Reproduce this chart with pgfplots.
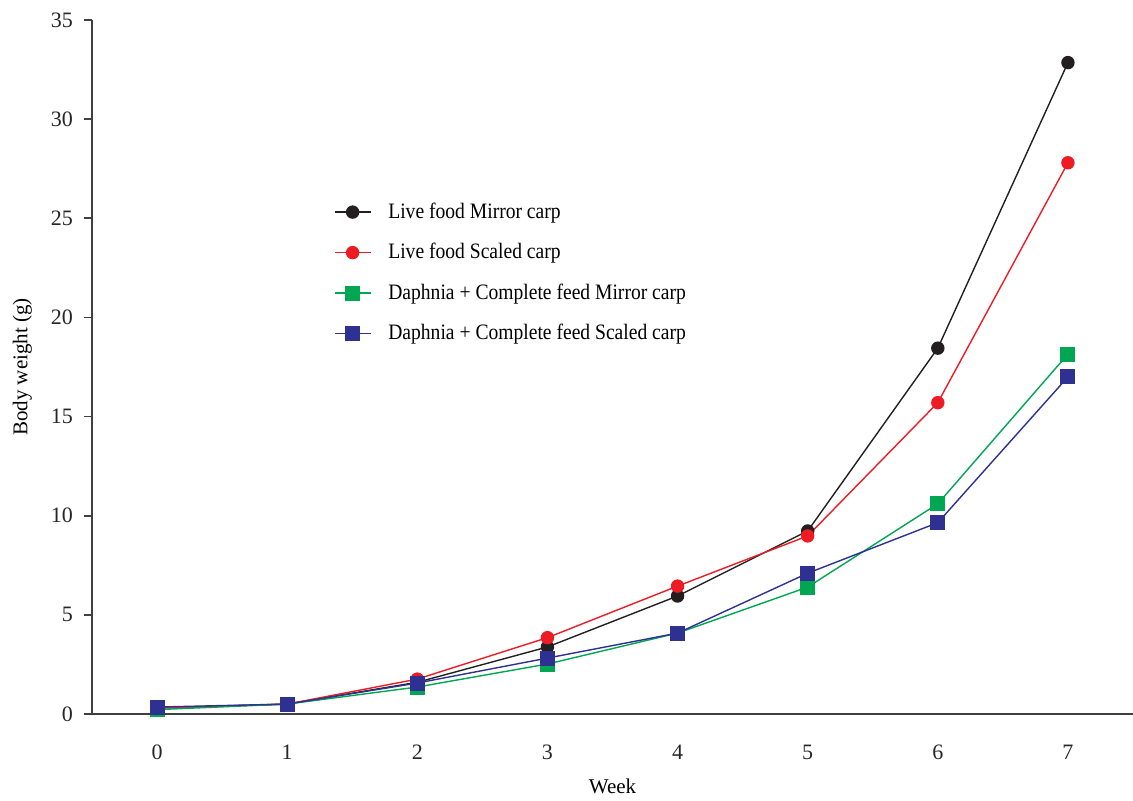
\documentclass[border=0pt]{standalone}
\usepackage{pgfplots}
\pgfplotsset{compat=1.18}
\usepackage{fontspec}
\setmainfont{Liberation Serif}
\newfontfamily\legfont[FakeStretch=0.89]{Liberation Serif}
\definecolor{cblack}{HTML}{231F20}
\definecolor{cred}{HTML}{ED1C24}
\definecolor{cgreen}{HTML}{00A651}
\definecolor{cblue}{HTML}{2E3192}
\definecolor{axgray}{HTML}{404040}
\begin{document}
\begin{tikzpicture}
\useasboundingbox (0,0) rectangle (566.5pt,400.5pt);
\begin{axis}[
  at={(46pt,43.5pt)}, anchor=south west,
  scale only axis, width=520.5pt, height=347pt,
  xmin=-0.5, xmax=7.5, ymin=0, ymax=35,
  axis lines*=left, axis line style={-, axgray, line width=0.8pt},
  tick align=outside,
  xtick={0,...,7}, minor xtick={-0.5,0.5,...,7.5},
  ytick={0,5,...,35},
  x tick style={draw=none},
  minor x tick style={axgray, line width=0.8pt},
  minor tick length=3.5pt,
  y tick style={axgray, line width=0.8pt},
  major tick length=4pt,
  /pgf/number format/assume math mode=true,
  tick label style={font=\fontsize{11}{13}\selectfont, color=black!85},
  xticklabel style={yshift=-8pt},
  yticklabel style={xshift=-2pt},
  xlabel={Week}, ylabel={Body weight (g)},
  label style={font=\fontsize{10.5}{12}\selectfont},
  xlabel style={at={(axis description cs:0.5,-0.105)}, anchor=center},
  ylabel style={at={(axis description cs:-0.067,0.5)}, anchor=center, rotate=0},
  legend style={at={(axis cs:1.31,26.1)}, anchor=north west, draw=none, fill=none,
    font=\legfont\fontsize{11}{13}\selectfont, row sep=9pt, column sep=7.5pt, nodes={inner sep=1pt}},
  legend cell align=left,
  legend image code/.code={\draw[mark repeat=2, mark phase=2, #1] plot coordinates {(0pt,0pt) (9pt,0pt) (18pt,0pt)};},
  clip=false,
]
\addplot[cblack, line width=0.7pt, mark=*, mark size=3pt, mark options={fill=cblack}] coordinates {
(0,0.30) (1,0.50) (2,1.60) (3,3.38) (4,5.95) (5,9.23) (6,18.45) (7,32.85)};
\addlegendentry{Live food Mirror carp}
\addplot[cred, line width=0.7pt, mark=*, mark size=3pt, mark options={fill=cred}] coordinates {
(0,0.30) (1,0.50) (2,1.76) (3,3.85) (4,6.45) (5,8.98) (6,15.70) (7,27.80)};
\addlegendentry{Live food Scaled carp}
\addplot[cgreen, line width=0.7pt, mark=square*, mark size=3.4pt, mark options={fill=cgreen}] coordinates {
(0,0.22) (1,0.50) (2,1.36) (3,2.52) (4,4.08) (5,6.40) (6,10.60) (7,18.15)};
\addlegendentry{Daphnia + Complete feed Mirror carp}
\addplot[cblue, line width=0.7pt, mark=square*, mark size=3.4pt, mark options={fill=cblue}] coordinates {
(0,0.35) (1,0.50) (2,1.56) (3,2.82) (4,4.08) (5,7.10) (6,9.65) (7,17.00)};
\addlegendentry{Daphnia + Complete feed Scaled carp}
\end{axis}
\end{tikzpicture}
\end{document}
